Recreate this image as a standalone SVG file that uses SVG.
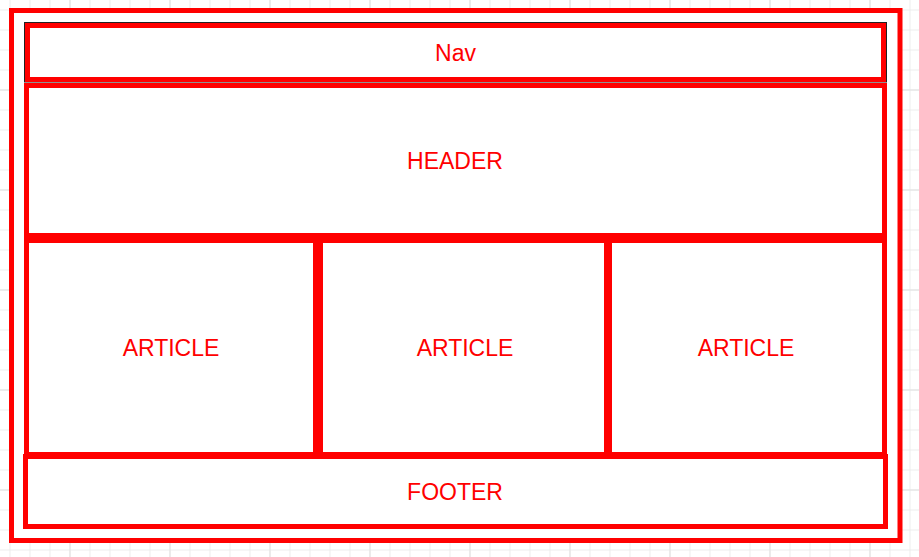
<svg xmlns="http://www.w3.org/2000/svg" width="919" height="557" viewBox="0 0 919 557">
  <defs>
    <pattern id="grid" x="9.5" y="9.5" width="20" height="20" patternUnits="userSpaceOnUse">
      <path d="M0 0.5H20M0.5 0V20" fill="none" stroke="#ececec" stroke-width="1"/>
    </pattern>
    <pattern id="gridMajor" x="69.5" y="89.5" width="100" height="100" patternUnits="userSpaceOnUse">
      <path d="M0 0.5H100M0.5 0V100" fill="none" stroke="#e0e0e0" stroke-width="1"/>
    </pattern>
  </defs>
  <style>
    .box { fill: #ffffff; stroke: #ff0000; stroke-width: 5; }
    .lbl { font-family: "Liberation Sans", Arial, sans-serif; font-size: 23px; fill: #ff0000; text-anchor: middle; }
  </style>
  <rect x="0" y="0" width="919" height="557" fill="#ffffff"/>
  <rect x="0" y="0" width="919" height="557" fill="url(#grid)"/>
  <rect x="0" y="0" width="919" height="557" fill="url(#gridMajor)"/>

  <g id="page">
    <rect class="box" x="11.5" y="10.5" width="888.5" height="530"/>
  </g>
  <g id="nav">
    <rect x="24.5" y="22.5" width="862" height="59.5" fill="#ffffff" stroke="#222222" stroke-width="1"/>
    <rect class="box" x="27.5" y="25.5" width="856" height="54"/>
    <text class="lbl" x="455.5" y="61">Nav</text>
  </g>
  <g id="header">
    <rect class="box" x="26.5" y="85.5" width="858" height="150"/>
    <text class="lbl" x="455" y="168.5">HEADER</text>
  </g>
  <g id="article1">
    <rect class="box" x="26.5" y="240.5" width="289" height="214"/>
    <text class="lbl" x="171" y="356">ARTICLE</text>
  </g>
  <g id="article2">
    <rect class="box" x="320.5" y="240.5" width="286" height="214"/>
    <text class="lbl" x="465" y="356">ARTICLE</text>
  </g>
  <g id="article3">
    <rect class="box" x="609.5" y="240.5" width="275" height="214"/>
    <text class="lbl" x="746" y="356">ARTICLE</text>
  </g>
  <g id="footer">
    <rect class="box" x="25.5" y="456.5" width="860" height="70"/>
    <text class="lbl" x="455" y="500">FOOTER</text>
  </g>
  <g id="connectors"></g>
</svg>
